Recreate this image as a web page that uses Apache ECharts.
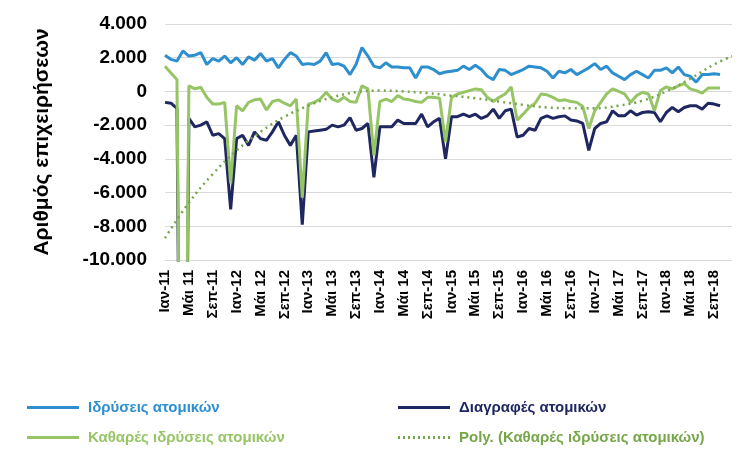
<!DOCTYPE html>
<html lang="el">
<head>
<meta charset="UTF-8">
<title>Επιχειρήσεις</title>
<script src="https://cdn.jsdelivr.net/npm/echarts@6/dist/echarts.min.js"></script>
</head>
<body style="margin:0;background:#fff">
<div id="chart" style="width:756px;height:450px"></div>
<script>
// κατηγορίες: μήνες Ιαν-11 .. Δεκ-18
const months = ['Ιαν', 'Φεβ', 'Μαρ', 'Απρ', 'Μάι', 'Ιουν', 'Ιουλ', 'Αυγ', 'Σεπ', 'Οκτ', 'Νοε', 'Δεκ'];
const years = ['11', '12', '13', '14', '15', '16', '17', '18'];
const categories = [];
years.forEach(y => months.forEach(m => categories.push(m === 'Μάι' ? m + ' ' + y : m + '-' + y)));

const idryseis = [2150,1900,1800,2400,2100,2150,2300,1600,1950,1800,2100,1700,2000,1600,2050,1850,2250,1800,1950,1400,
  1900,2300,2100,1600,1650,1600,1800,2300,1600,1650,1500,1000,1600,2600,2100,1500,1400,1700,1450,1450,
  1400,1400,800,1450,1450,1300,1050,1150,1200,1250,1500,1300,1550,1300,900,700,1300,1250,1000,1150,
  1300,1500,1450,1400,1200,800,1200,1100,1300,1000,1200,1400,1650,1300,1500,1100,900,700,1000,1200,
  1000,800,1250,1250,1400,1100,1450,1000,900,550,1000,1000,1050,1000];
const diagrafes = [-650,-700,-1000,-42000,-1600,-2100,-2000,-1800,-2600,-2500,-2800,-7000,-2800,-2600,-3200,-2400,-2800,-2900,-2400,-1800,
  -2600,-3200,-2600,-7900,-2400,-2350,-2300,-2250,-2000,-2100,-2000,-1550,-2300,-2200,-1900,-5100,-2100,-2100,-2100,-1700,
  -1900,-1900,-1900,-1350,-2100,-1800,-1600,-4000,-1500,-1500,-1350,-1500,-1350,-1600,-1450,-1050,-1600,-1150,-1050,-2700,
  -2600,-2200,-2300,-1600,-1450,-1600,-1500,-1450,-1700,-1750,-1900,-3500,-2200,-1900,-1800,-1150,-1450,-1450,-1150,-1400,
  -1250,-1200,-1250,-1800,-1250,-950,-1200,-950,-850,-850,-1050,-700,-750,-850];
const kathares = [1500,1100,700,-40000,330,150,250,-350,-750,-750,-650,-5450,-850,-1150,-650,-500,-450,-1100,-600,-500,
  -700,-850,-450,-6300,-750,-650,-450,-50,-450,-600,-350,-600,-650,330,150,-3800,-600,-450,-600,-250,
  -450,-500,-600,-650,-350,-350,-400,-3000,-350,-150,-50,50,150,100,-350,-600,-350,-150,270,-1700,
  -1350,-950,-700,-150,-200,-350,-550,-500,-600,-650,-900,-2200,-1150,-650,-150,150,0,-150,-650,-250,
  -50,-150,-1150,50,270,150,330,470,150,50,-100,200,200,200];
// τάση (Poly.) διαβασμένη κάθε 4 μήνες
const polyIdx = [0,4,8,12,16,20,24,28,32,36,40,44,48,52,56,60,64,68,72,76,80,84,88,92,95];
const polyVal = [-8700,-6600,-4900,-3500,-2400,-1500,-850,-350,-50,50,0,-100,-250,-400,-600,-800,-950,-1000,-1000,-850,-550,0,750,1600,2100];
const poly = categories.map(() => null);
polyIdx.forEach((k, j) => { poly[k] = polyVal[j]; });

const cBlue = '#2E8FCF', cNavy = '#1F2761', cGreen = '#97C566', cPoly = '#77A64A';
const font = 'Liberation Sans, Arial, sans-serif';

function leg(name, color, left, top) {
  return {
    data: [name], left: left, top: top, itemWidth: 52, itemHeight: 3, itemGap: 0,
    icon: 'rect', textStyle: {color: color, fontSize: 15, fontWeight: 'bold', fontFamily: font, padding: [0, 0, 0, 4]}
  };
}

const chart = echarts.init(document.getElementById('chart'));
chart.setOption({
  animation: false,
  grid: {left: 165, right: 24, top: 24, bottom: 190},
  legend: [
    leg('Ιδρύσεις ατομικών', cBlue, 22, 395),
    leg('Διαγραφές ατομικών', cNavy, 393, 395),
    leg('Καθαρές ιδρύσεις ατομικών', cGreen, 22, 425),
    {data: [{name: 'Poly. (Καθαρές ιδρύσεις ατομικών)', icon: 'path://M0,0h2v3h-2zM5,0h2v3h-2zM10,0h2v3h-2zM15,0h2v3h-2zM20,0h2v3h-2zM25,0h2v3h-2zM30,0h2v3h-2zM35,0h2v3h-2zM40,0h2v3h-2zM45,0h2v3h-2zM50,0h2v3h-2z'}],
     left: 393, top: 425, itemWidth: 52, itemHeight: 3,
     textStyle: {color: cPoly, fontSize: 15, fontWeight: 'bold', fontFamily: font, padding: [0, 0, 0, 4]}}
  ],
  xAxis: {
    type: 'category', data: categories, boundaryGap: false,
    axisLine: {show: false}, axisTick: {show: false},
    axisLabel: {interval: 3, rotate: 90, fontSize: 15, fontWeight: 'bold', color: '#000', fontFamily: font, margin: 10}
  },
  yAxis: {
    type: 'value', min: -10000, max: 4000, interval: 2000,
    name: 'Αριθμός επιχειρήσεων', nameLocation: 'middle', nameGap: 112, nameRotate: 90,
    nameTextStyle: {fontSize: 21, fontWeight: 'bold', color: '#000', fontFamily: font},
    axisLine: {show: false}, axisTick: {show: false},
    splitLine: {lineStyle: {color: '#D9D9D9'}},
    axisLabel: {fontSize: 19, fontWeight: 'bold', color: '#000', fontFamily: font, margin: 18,
      formatter: v => v.toLocaleString('de-DE')}
  },
  series: [
    {name: 'Ιδρύσεις ατομικών', type: 'line', data: idryseis, showSymbol: false, lineStyle: {color: cBlue, width: 3}, itemStyle: {color: cBlue}},
    {name: 'Διαγραφές ατομικών', type: 'line', data: diagrafes, showSymbol: false, lineStyle: {color: cNavy, width: 3}, itemStyle: {color: cNavy}},
    {name: 'Καθαρές ιδρύσεις ατομικών', type: 'line', data: kathares, showSymbol: false, lineStyle: {color: cGreen, width: 3}, itemStyle: {color: cGreen}},
    {name: 'Poly. (Καθαρές ιδρύσεις ατομικών)', type: 'line', data: poly, connectNulls: true, smooth: 0.4, showSymbol: false,
      lineStyle: {color: cPoly, width: 2.5, type: [2, 4]}, itemStyle: {color: cPoly}}
  ]
});
</script>
</body>
</html>
